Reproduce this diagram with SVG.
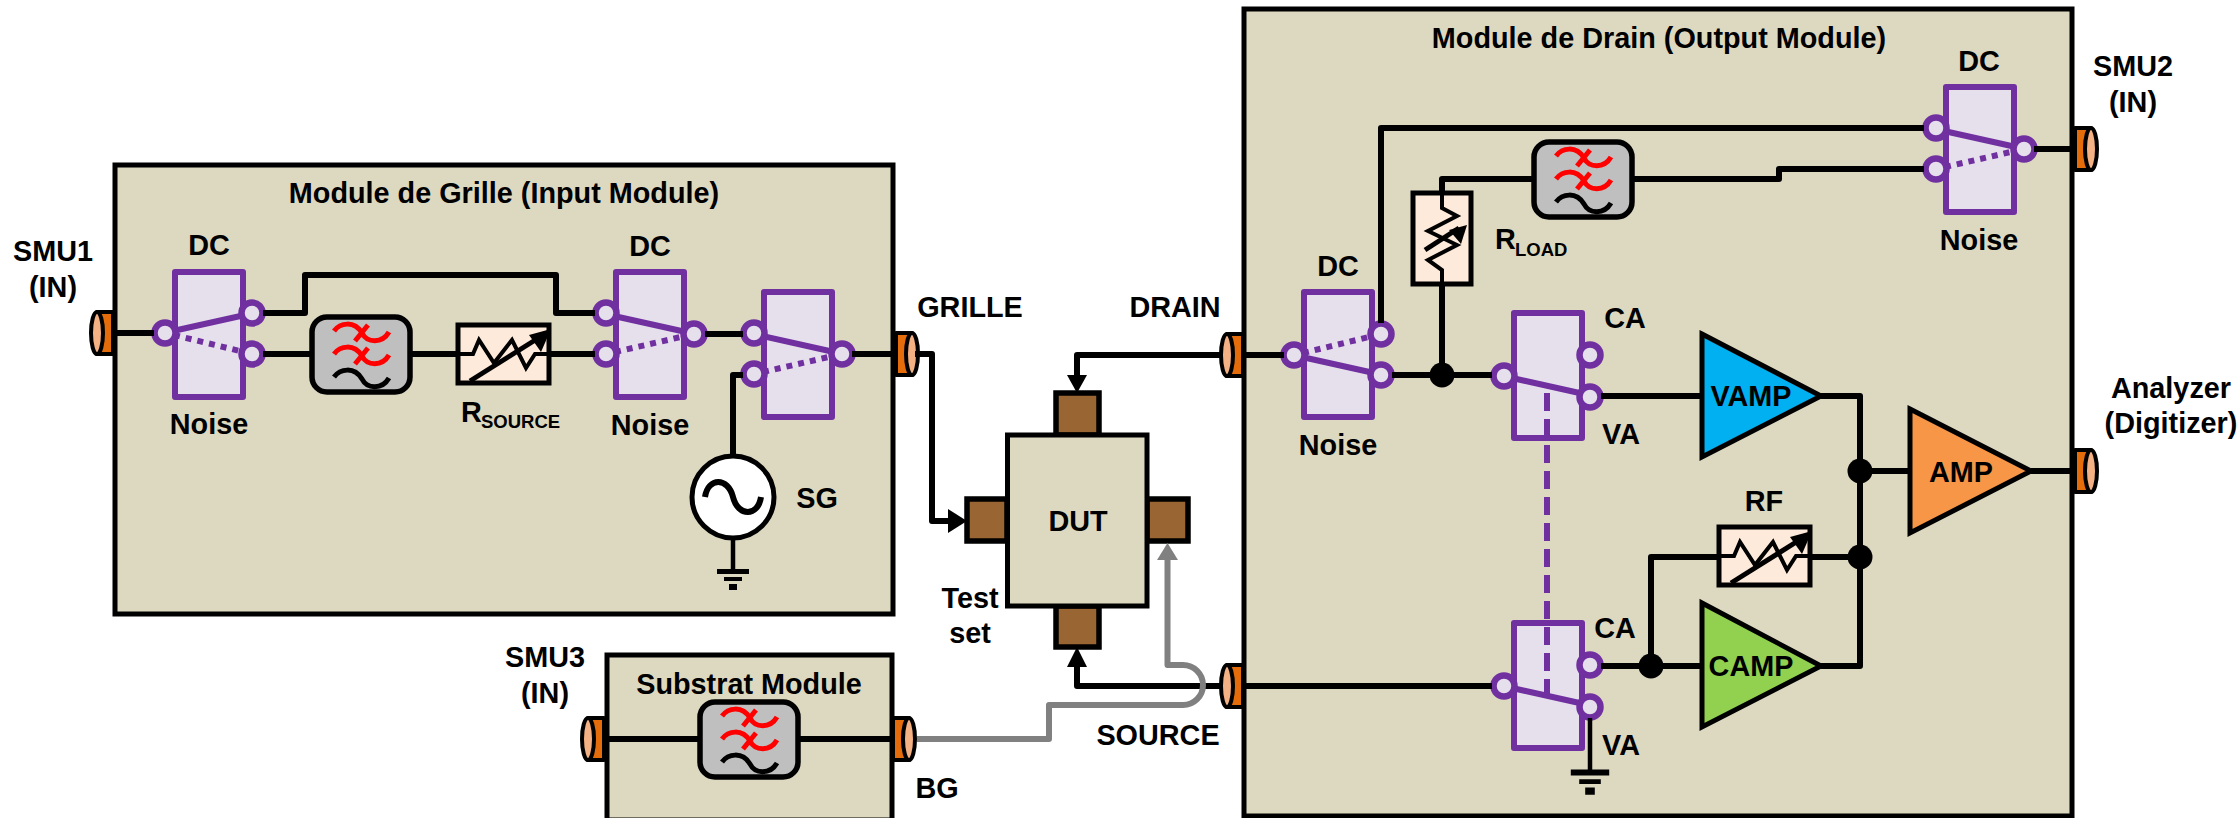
<svg xmlns="http://www.w3.org/2000/svg" xmlns:xlink="http://www.w3.org/1999/xlink" width="2239" height="818" viewBox="0 0 2239 818">
<style>
text{font-family:"Liberation Sans",Arial,sans-serif;font-weight:700;font-size:28.800px;fill:#000;text-anchor:middle}
.l{text-anchor:start}
.sub{font-size:18.500px}
.mod{fill:#DDD8C0;stroke:#000;stroke-width:5}
.w{fill:none;stroke:#000;stroke-width:6;stroke-linejoin:round}
.t{fill:none;stroke:#000;stroke-width:6;stroke-linejoin:round}
.n{fill:none;stroke:#000;stroke-width:4.500}
.g{fill:none;stroke:#808080;stroke-width:6;stroke-linejoin:round}
.pad{fill:#996633;stroke:#000;stroke-width:5.500}
.sb{fill:#E6E0EC;stroke:#7030A0;stroke-width:6;stroke-linejoin:round}
.sc{fill:#E6E0EC;stroke:#7030A0;stroke-width:6.500}
.sl{fill:none;stroke:#7030A0;stroke-width:6}
.sd{fill:none;stroke:#7030A0;stroke-width:6;stroke-dasharray:6 6}
.fb{fill:#BFBFBF;stroke:#000;stroke-width:5.500}
.fr{fill:none;stroke:#FF0000;stroke-width:5}
.fk{fill:none;stroke:#000;stroke-width:5}
.rb{fill:#FDEADA;stroke:#000;stroke-width:5}
.rz{fill:none;stroke:#000;stroke-width:4}
.ra{fill:none;stroke:#000;stroke-width:5}
.amp{stroke:#000;stroke-width:5;stroke-linejoin:miter}
.po{fill:#E46C0A;stroke:#000;stroke-width:4;stroke-linejoin:round}
.pl{fill:#F4B183;stroke:#000;stroke-width:4}
</style>
<defs>
<g id="swA"><rect class="sb" width="68" height="125"/><path class="sl" d="M-2 59L70 43"/><path class="sd" d="M-1 63L69 80"/><circle class="sc" cx="-10" cy="61" r="10.500"/><circle class="sc" cx="77" cy="41" r="10.500"/><circle class="sc" cx="77" cy="82" r="10.500"/></g>
<g id="swB"><rect class="sb" width="68" height="125"/><path class="sl" d="M-2 44L70 60"/><path class="sd" d="M-1 80L69 64"/><circle class="sc" cx="-10" cy="41" r="10.500"/><circle class="sc" cx="-10" cy="82" r="10.500"/><circle class="sc" cx="78" cy="62" r="10.500"/></g>
<g id="swC"><rect class="sb" width="68" height="125"/><path class="sl" d="M-2 65L70 81"/><path class="sd" d="M-1 61L69 44"/><circle class="sc" cx="-10" cy="63" r="10.500"/><circle class="sc" cx="77" cy="42" r="10.500"/><circle class="sc" cx="77" cy="83" r="10.500"/></g>
<g id="swD"><rect class="sb" width="68" height="125"/><path class="sl" d="M-2 65L70 81"/><circle class="sc" cx="-10" cy="63" r="10.500"/><circle class="sc" cx="76" cy="42" r="10.500"/><circle class="sc" cx="76" cy="84" r="10.500"/></g>
<g id="flt"><rect class="fb" width="98" height="75" rx="15"/><path class="fr" d="M22 14C28 6 42 3 50 16C55 26 70 27 77 15M43 24L56 8"/><path class="fr" d="M22 37C28 29 42 26 50 39C55 49 70 50 77 38M43 47L56 31"/><path class="fk" d="M22 60C28 52 42 49 50 62C55 72 70 73 77 61"/></g>
<g id="resH"><rect class="rb" width="91" height="58"/><path class="rz" d="M0 29H15L21 15L36 38L54 15L68 43L77 29H91"/><path class="ra" d="M12 56L82 12"/><path d="M93 4L71 10L83 27Z"/></g>
<g id="resV"><rect class="rb" width="58" height="91"/><path class="rz" d="M29 0V15L44 23L15 38L44 52L15 67L29 77V91"/><path class="ra" d="M12 57L46 35"/><path d="M54 32L36 37L48 51Z"/></g>
<g id="portL"><path class="po" d="M7 1H23V43H7Z"/><ellipse class="pl" cx="7" cy="22" rx="6" ry="21"/></g>
<g id="portR"><path class="po" d="M16 1H0V43H16Z"/><ellipse class="pl" cx="16" cy="22" rx="6" ry="21"/></g>
<g id="gnd"><path d="M-16 -2H16V3H-16ZM-9 6H9V10H-9ZM-4 13H4V19H-4Z"/></g>
</defs>

<g id="module-grille"><rect class="mod" x="115" y="165" width="778" height="449"/><text x="504" y="203">Module de Grille (Input Module)</text></g>
<g id="module-substrat"><rect class="mod" x="607" y="655" width="285" height="165"/><text x="749" y="694">Substrat Module</text></g>
<g id="module-drain"><rect class="mod" x="1244" y="9" width="828" height="807"/><text x="1659" y="48">Module de Drain (Output Module)</text></g>

<g id="sw1"><use href="#swA" x="175" y="272"/><text x="209" y="255">DC</text><text x="209" y="434">Noise</text></g>
<g id="sw2"><use href="#swB" x="616" y="272"/><text x="650" y="256">DC</text><text x="650" y="435">Noise</text></g>
<g id="sw3"><use href="#swB" x="764" y="292"/></g>
<g id="sw4"><use href="#swB" x="1946" y="87"/><text x="1979" y="71">DC</text><text x="1979" y="250">Noise</text></g>
<g id="sw5"><use href="#swC" x="1304" y="292"/><text x="1338" y="276">DC</text><text x="1338" y="455">Noise</text></g>
<g id="sw6"><use href="#swD" x="1514" y="313"/><text x="1625" y="328">CA</text><text x="1621" y="444">VA</text></g>
<g id="sw7"><use href="#swD" x="1514" y="623"/><text x="1615" y="638">CA</text><text x="1621" y="755">VA</text></g>

<g id="filter1"><use href="#flt" x="312" y="317"/></g>
<g id="filter2"><use href="#flt" x="1534" y="142"/></g>
<g id="filter3"><use href="#flt" x="700" y="702"/></g>
<g id="rsource"><use href="#resH" x="458" y="325"/><text class="l" x="461" y="422">R</text><text class="l sub" x="481" y="428">SOURCE</text></g>
<g id="rf"><use href="#resH" x="1719" y="527"/><text x="1764" y="511">RF</text></g>
<g id="rload"><use href="#resV" x="1413" y="193"/><text class="l" x="1495" y="249">R</text><text class="l sub" x="1515" y="256">LOAD</text></g>

<g id="sg"><circle cx="733" cy="497" r="41" fill="#fff" stroke="#000" stroke-width="5"/><path class="t" d="M705 497C708 477 728 477 733 497C738 517 758 517 761 497"/><text x="817" y="508">SG</text></g>
<g id="sg-ground"><use href="#gnd" x="733" y="571"/></g>
<g id="va-ground"><use href="#gnd" transform="translate(1590 772) scale(1.2)"/></g>

<g id="vamp"><path class="amp" fill="#00B0F0" d="M1702 334L1821 396L1702 457Z"/><text x="1751" y="406">VAMP</text></g>
<g id="camp"><path class="amp" fill="#92D050" d="M1702 603L1821 666L1702 727Z"/><text x="1751" y="676">CAMP</text></g>
<g id="amp"><path class="amp" fill="#F79646" d="M1910 409L2031 471L1910 533Z"/><text x="1961" y="482">AMP</text></g>

<g id="dut"><rect class="pad" x="1056" y="393" width="43" height="42"/><rect class="pad" x="1056" y="606" width="43" height="41"/><rect class="pad" x="967" y="499" width="40" height="42"/><rect class="pad" x="1147" y="499" width="41" height="42"/><rect class="mod" x="1007.500" y="435" width="139.500" height="171"/><text x="1078" y="531">DUT</text><text x="970" y="608">Test</text><text x="970" y="643">set</text></g>

<g id="smu1"><use href="#portL" x="90" y="311"/><text x="53" y="261">SMU1</text><text x="53" y="297">(IN)</text></g>
<g id="grille-port"><use href="#portR" x="896" y="332"/><text x="970" y="317">GRILLE</text></g>
<g id="drain-port"><use href="#portL" x="1220" y="333"/><text x="1175" y="317">DRAIN</text></g>
<g id="source-port"><use href="#portL" x="1220" y="664"/><text x="1158" y="745">SOURCE</text></g>
<g id="smu3"><use href="#portL" x="581" y="717"/><text x="545" y="667">SMU3</text><text x="545" y="703">(IN)</text></g>
<g id="bg-port"><use href="#portR" x="893" y="717"/><text x="937" y="798">BG</text></g>
<g id="smu2"><use href="#portR" x="2075" y="127"/><text x="2133" y="76">SMU2</text><text x="2133" y="112">(IN)</text></g>
<g id="analyzer"><use href="#portR" x="2075" y="449"/><text x="2171" y="398">Analyzer</text><text x="2171" y="433">(Digitizer)</text></g>

<g id="connectors">
<path class="w" d="M113 333H154"/>
<path class="w" d="M263 313H305V275H556V313H595"/>
<path class="w" d="M263 354H312"/><path class="w" d="M410 354H458"/><path class="w" d="M549 354H595"/>
<path class="w" d="M705 334H743"/><path class="w" d="M852 354H896"/>
<path class="t" d="M743 375H733V456"/><path class="n" d="M733 538V571"/>
<path class="w" d="M915 354H932V521H950"/><path d="M948 509L967 521L948 533Z"/>
<path class="w" d="M1220 355H1077V377"/><path d="M1067 375H1087L1077 393Z"/>
<path class="w" d="M1220 686H1077V665"/><path d="M1067 667H1087L1077 647Z"/>
<path class="w" d="M604 739H700"/><path class="w" d="M798 739H893"/>
<path class="w" d="M1242 355H1284"/>
<path class="t" d="M1381 323V128H1924"/>
<path class="w" d="M1392 375H1492"/>
<path class="t" d="M1442 375V284"/><path class="t" d="M1442 193V179H1534"/>
<path class="t" d="M1632 179H1779V169H1924"/>
<path class="w" d="M2034 149H2075"/>
<path class="w" d="M1601 396H1702"/>
<path class="t" d="M1821 396H1860V666H1821"/>
<path class="w" d="M1860 471H1910"/><path class="w" d="M2031 471H2075"/>
<path class="w" d="M1242 686H1492"/>
<path class="w" d="M1601 666H1702"/>
<path class="t" d="M1719 557H1651V666"/><path class="t" d="M1810 557H1860"/>
<path class="n" d="M1590 718V772"/>
<circle cx="1442" cy="375" r="12.500"/><circle cx="1651" cy="666" r="12.500"/><circle cx="1860" cy="471" r="12.500"/><circle cx="1860" cy="557" r="12.500"/>
<path class="sl" style="stroke-dasharray:18 8" d="M1547 393V697"/>
<path class="g" d="M917 739H1049V705H1183A20 20 0 0 0 1183 665H1167.500V558"/><path fill="#808080" d="M1157 560H1178L1167.500 543Z"/>
</g>
</svg>
